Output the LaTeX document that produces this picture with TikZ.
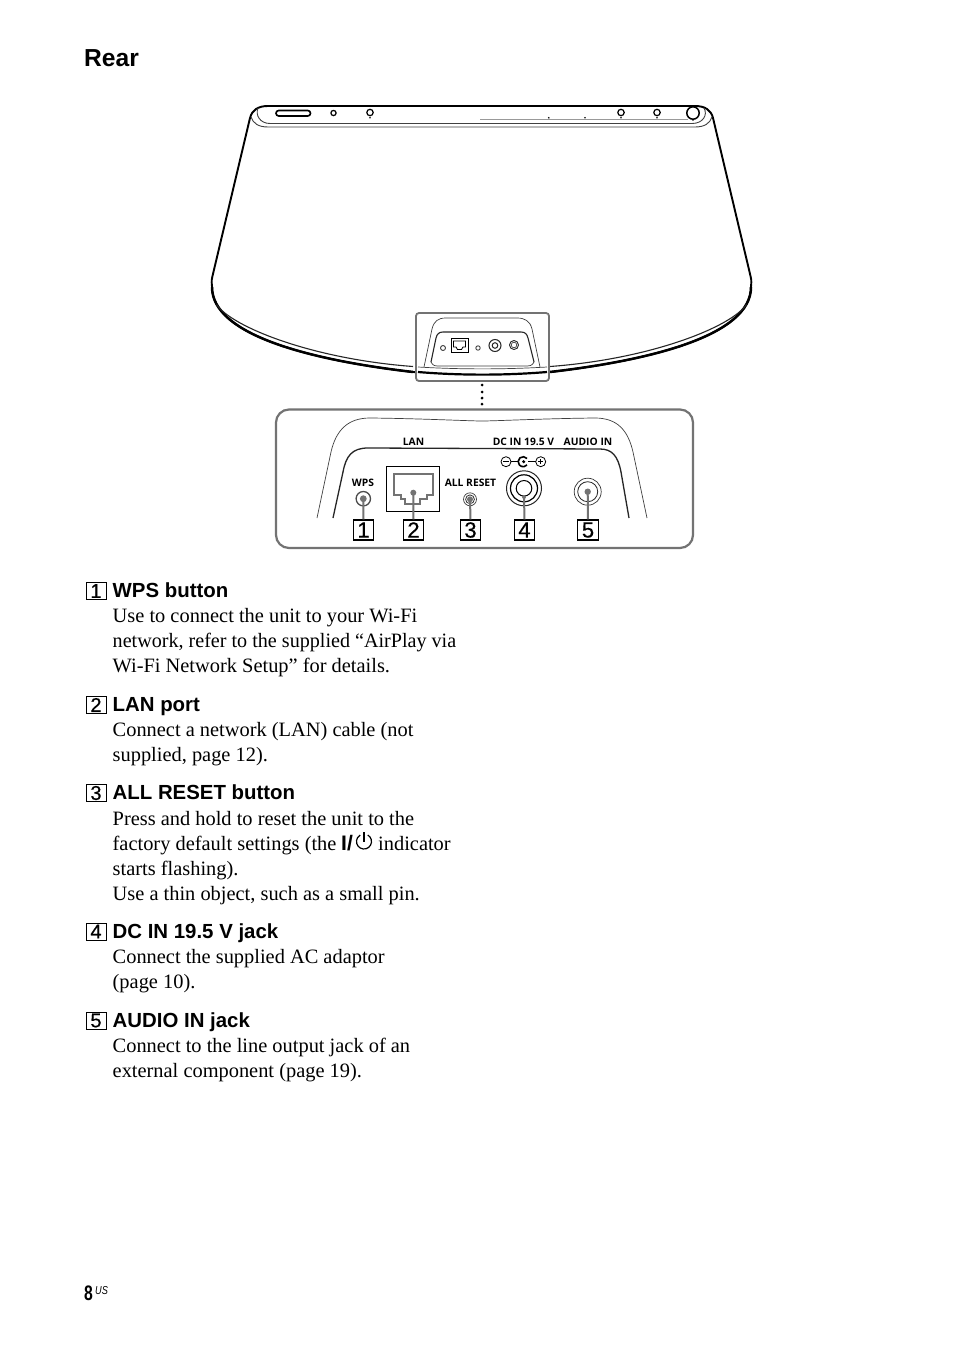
\documentclass[tikz,border=0pt]{standalone}
\usepackage{fontspec}
\setmainfont{Liberation Serif}
\newfontfamily\hsans{Liberation Sans}
\newfontfamily\numsans[FakeBold=0.5]{Liberation Sans}
\newfontfamily\lblsans{Open Sans}
\definecolor{leadgray}{gray}{0.45}
\tikzset{
  body/.style={anchor=base west,inner sep=0pt,font=\fontsize{20.4}{25}\selectfont},
  head/.style={anchor=base west,inner sep=0pt,font=\fontsize{20.4}{25}\hsans\bfseries},
  plate/.style={anchor=base,inner sep=0pt,font=\fontsize{10.3}{11}\lblsans\bfseries},
  numbox/.style={draw=black,line width=1.1pt,fill=white,inner sep=0pt,minimum width=20.5pt,minimum height=20pt,font=\fontsize{22}{22}\numsans},
  txtbox/.style={draw=black,line width=.9pt,inner sep=0pt,minimum width=20pt,minimum height=17pt,font=\fontsize{20}{20}\numsans},
  outline/.style={line width=1.9pt,black,line cap=round},
  thinline/.style={line width=.7pt,black!75},
  midline/.style={line width=1.1pt,black!85},
  leader/.style={line width=2pt,leadgray},
  dotg/.style={fill=leadgray,draw=none},
  inset/.style={draw=leadgray,line width=1.8pt,rounded corners=3pt,fill=white},
  detail/.style={draw=leadgray,line width=2.2pt,rounded corners=13pt,fill=white}
}
\begin{document}
\begin{tikzpicture}[x=1pt,y=-1pt]
\useasboundingbox (0,0) rectangle (954,1352);
\fill[white] (0,0) rectangle (954,1352);

\node[anchor=base west,inner sep=0pt,font=\fontsize{24.6}{28}\hsans\bfseries] (title) at (84,66.5) {Rear};

% unit body
\draw[outline] (268,106) -- (695,106) .. controls (705,106) and (711,110) .. (713,118)
  -- (750.5,276) .. controls (752,282) and (751,283) .. (751,287)
  .. controls (751,335) and (653,360) .. (550,372)
  .. controls (505,375) and (458,375) .. (413,372)
  .. controls (310,360) and (212,335) .. (212,287)
  .. controls (212,283) and (211,282) .. (212.5,276)
  -- (250,118) .. controls (252,110) and (258,106) .. (268,106) -- cycle;
\draw[line width=2.5pt] (413,372) .. controls (310,360) and (212,335) .. (212,287);
\draw[line width=2.5pt] (751,287) .. controls (751,335) and (653,360) .. (550,372);
\draw[midline] (216.5,304.5) .. controls (232,327) and (312,359) .. (413,366.5);
\draw[midline] (746.5,304.5) .. controls (731,327) and (651,359) .. (550,366.5);
% top bar
\draw[thinline,line width=.9pt] (258,108) .. controls (255,115) and (260,123.5) .. (270,123.5) -- (692,123.5)
  .. controls (703,123.5) and (708,115) .. (704,108);
\draw[thinline,line width=.9pt] (251,117) .. controls (253,123) and (258,127) .. (268,127) -- (695,127)
  .. controls (705,127) and (710,123) .. (712,117);
\draw[thinline,black!40] (480,119.5) -- (688,119.5);
\draw[line width=1.6pt,rounded corners=2.7pt,fill=white] (276,110.5) rectangle (310.5,116);
\draw[line width=1.2pt,fill=white] (333.5,113) circle (2.6);
\draw[line width=1.2pt,fill=white] (370,112.5) circle (3.2);
\fill (370,117.8) circle (.9);
\fill (548.8,117.8) circle (.9);
\fill (585,117.8) circle (.9);
\draw[line width=1.2pt,fill=white] (621,112.5) circle (3.2);
\fill (621,117.8) circle (.9);
\draw[line width=1.2pt,fill=white] (657,112.5) circle (3.2);
\fill (657,117.8) circle (.9);
\draw[line width=1.5pt,fill=white] (693,113) circle (6.2);
\fill (693,120) circle (.9);

% inset
\draw[inset] (416,313) rectangle (549,381);
\draw[thinline] (424,367) -- (432,329) .. controls (434,321) and (438,318) .. (446,318) -- (517,318)
  .. controls (525,318) and (530,321) .. (532,329) -- (540,367);
\draw[midline] (431,362) -- (436,338) .. controls (437,334) and (439,332) .. (443,332) -- (521,332)
  .. controls (525,332) and (527,334) .. (528,338) -- (534,362);
\draw[thinline] (431,362) .. controls (433,366) and (435,366) .. (440,366) -- (524,366) .. controls (530,366) and (532,366) .. (534,362);
\draw[thinline] (418,367) .. controls (460,369.5) and (505,369.5) .. (547,367);
\draw[line width=2.2pt,black] (418,372) .. controls (460,375.5) and (505,375.5) .. (547,372);
\draw[line width=1pt,fill=white] (451,338.5) rectangle (468,352.5);
\draw[line width=.8pt] (453.5,341) -- (465.5,341) -- (465.5,347) -- (463,347) -- (461.5,349.5) -- (457.5,349.5) -- (456,347) -- (453.5,347) -- cycle;
\draw[thinline,line width=.9pt] (443,348) circle (2.5);
\draw[thinline,line width=.9pt] (478,348) circle (2.2);
\draw[line width=1pt,black!85] (495,345.5) circle (6);
\draw[line width=1pt,black!85] (495,345.5) circle (2.8);
\draw[line width=.9pt,black!85] (514,345) circle (4.5);
\draw[thinline] (514,345) circle (2.8);

% dots between inset and detail
\foreach \yy in {385,392,398,404}
  \fill (482,\yy) circle (1.5);

% detail panel
\draw[detail] (276,409.5) rectangle (693,548);
\draw[thinline] (317,518) -- (331,452) .. controls (336,430) and (348,418) .. (370,418)
  .. controls (420,418.5) and (470,421) .. (482,421)
  .. controls (495,421) and (545,418.5) .. (595,418)
  .. controls (617,418) and (628,430) .. (633,452) -- (647,518);
\draw[midline,line width=1.3pt] (333,518) -- (343,472) .. controls (346,456) and (352,448) .. (368,448)
  -- (600,449) .. controls (612,449) and (618,456) .. (621,472) -- (629,518);

\node[plate] (lanlbl) at (413.5,445) {LAN};
\node[plate] (dclbl) at (523.5,445) {DC IN 19.5 V};
\node[plate] (audiolbl) at (588,445) {AUDIO IN};
\node[plate] (wpslbl) at (363,486) {WPS};
\node[plate] (resetlbl) at (470.5,486) {ALL RESET};

% polarity symbol
\draw[line width=.8pt] (506,461.7) circle (5);
\draw[line width=.8pt] (503,461.7) -- (509,461.7);
\draw[line width=.8pt] (540.7,461.7) circle (5);
\draw[line width=.8pt] (538,461.7) -- (543.4,461.7) (540.7,459) -- (540.7,464.4);
\draw[line width=.9pt] (511,461.7) -- (519,461.7);
\draw[line width=.9pt] (528,461.7) -- (535.7,461.7);
\draw[line width=1.6pt] (527,458.5) arc (-40:-320:5);
\fill (523.7,461.7) circle (1.7);

% ports
\draw[line width=1.3pt,black!70] (363.3,498.7) circle (7.2);
\fill[dotg] (363.3,498.7) circle (3.4);

\draw[line width=.8pt] (386,466.5) rectangle (439.5,511.5);
\draw[line width=2.2pt,black!55,fill=white] (394,474.3) -- (433.3,474.3) -- (433.3,495) -- (426.7,495)
  -- (426.7,499.3) -- (420,499.3) -- (420,504.3) -- (405,504.3) -- (405,499.3) -- (400.7,499.3)
  -- (400.7,495) -- (394,495) -- cycle;
\fill[dotg] (413.3,492.7) circle (3);

\draw[thinline] (470,499.3) circle (6.5);
\draw[line width=.8pt,black!80] (470,499.3) circle (4.4);
\fill[dotg] (470,499.3) circle (3);

\draw[line width=1pt,black!85] (524,488.3) circle (17.5);
\draw[line width=1.2pt] (524,488.3) circle (13.5);
\draw[line width=1pt] (524,488.3) circle (7.8);
\fill[dotg] (524,497) circle (2);

\draw[line width=.7pt,black!80] (587.7,491.7) circle (13.5);
\draw[line width=.8pt,black!85] (587.7,491.7) circle (10);
\fill[dotg] (587.7,491.7) circle (3.2);

% numbered boxes
\node[numbox] (n1) at (363.5,530) {1};
\node[numbox] (n2) at (413.5,530) {2};
\node[numbox] (n3) at (470.5,530) {3};
\node[numbox] (n4) at (524.5,530) {4};
\node[numbox] (n5) at (588,530) {5};

% leaders
\coordinate (p1) at (363.3,498.7);
\coordinate (p2) at (413.3,492.7);
\coordinate (p3) at (470,499.3);
\coordinate (p4) at (524,497);
\coordinate (p5) at (587.7,491.7);
\draw[leader] (p1) -- (n1.north);
\draw[leader] (p2) -- (n2.north);
\draw[leader] (p3) -- (n3.north);
\draw[leader] (p4) -- (n4.north);
\draw[leader] (p5) -- (n5.north);

% text
\node[txtbox] (t1) at (96,591) {1};
\node[head] (h1) at (112.5,597.5) {WPS button};
\node[body] (l1a) at (112.5,622.5) {Use to connect the unit to your Wi-Fi};
\node[body,xscale=.986] (l1b) at (112.5,647.5) {network, refer to the supplied “AirPlay via};
\node[body] (l1c) at (112.5,672.5) {Wi-Fi Network Setup” for details.};

\node[txtbox] (t2) at (96,705) {2};
\node[head] (h2) at (112.5,711.5) {LAN port};
\node[body] (l2a) at (112.5,736.5) {Connect a network (LAN) cable (not};
\node[body] (l2b) at (112.5,761.5) {supplied, page 12).};

\node[txtbox] (t3) at (96,793) {3};
\node[head] (h3) at (112.5,799.5) {ALL RESET button};
\node[body] (l3a) at (112.5,825) {Press and hold to reset the unit to the};
\node[body] (l3b) at (112.5,850) {factory default settings (the};
\node[anchor=base west,inner sep=0pt,font=\fontsize{21}{25}\hsans\bfseries] (l3i) at (341,850) {I/};
\draw[line width=1.2pt] (367.75,835) arc (-60:240:7.5);
\draw[line width=1.2pt] (364,832) -- (364,842);
\node[body] (l3c) at (378,850) {indicator};
\node[body] (l3d) at (112.5,875) {starts flashing).};
\node[body] (l3e) at (112.5,900) {Use a thin object, such as a small pin.};

\node[txtbox] (t4) at (96,931.5) {4};
\node[head] (h4) at (112.5,938) {DC IN 19.5 V jack};
\node[body] (l4a) at (112.5,963) {Connect the supplied AC adaptor};
\node[body] (l4b) at (112.5,988) {(page 10).};

\node[txtbox] (t5) at (96,1020.5) {5};
\node[head] (h5) at (112.5,1027) {AUDIO IN jack};
\node[body] (l5a) at (112.5,1052) {Connect to the line output jack of an};
\node[body] (l5b) at (112.5,1077) {external component (page 19).};

\node[anchor=base west,inner sep=0pt,font=\fontsize{21}{21}\hsans\bfseries,xscale=.75] (pg) at (84,1300) {8};
\node[anchor=base west,inner sep=0pt,font=\fontsize{11.5}{12}\hsans\itshape,xscale=.8] (pgus) at (95,1294.5) {US};
\end{tikzpicture}
\end{document}
